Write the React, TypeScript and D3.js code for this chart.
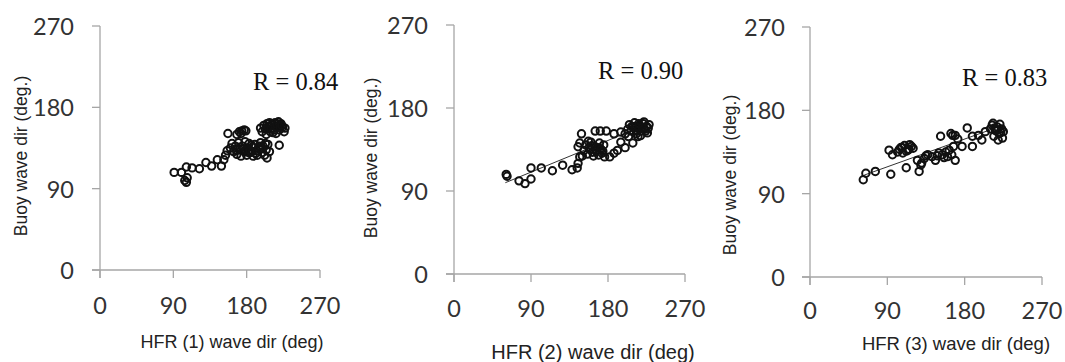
import * as d3 from 'd3';

// HFR vs buoy wave direction (deg)
const hfr1 = [91, 100, 104, 106, 107, 106, 113, 122, 130, 137, 144, 149, 152, 154, 156, 157,
  160, 162, 164, 166, 168, 170, 171, 173, 175, 177, 178, 180, 181, 183, 185, 187, 188, 190, 192, 193, 195, 197, 199, 200, 202, 204, 205, 206, 208, 182, 176, 196,
  172, 179, 186, 191, 198, 203, 167, 184,
  168, 171, 174, 177, 179, 173,
  197, 199, 201, 203, 205, 207, 209, 211, 213, 215, 216, 218, 220, 222, 224, 226, 227, 214, 208, 219, 204,
  206, 210, 217, 221, 223, 212,
  220];
const buoy1 = [108, 108, 99, 97, 102, 114, 113, 112, 119, 115, 122, 115, 122, 127, 132, 151,
  135, 140, 131, 137, 128, 141, 133, 126, 137, 131, 142, 127, 135, 140, 130, 136, 126, 139, 132, 127, 134, 141, 130, 137, 127, 133, 124, 139, 131, 130, 134, 137,
  136, 133, 138, 129, 135, 140, 133, 132,
  150, 153, 154, 155, 154, 151,
  157, 153, 160, 156, 162, 158, 153, 161, 157, 163, 151, 159, 155, 162, 158, 153, 157, 155, 163, 164, 150,
  159, 156, 161, 158, 160, 152,
  138];

const hfr2 = [61, 62, 76, 83, 90, 90, 102, 115, 127, 138, 144, 145, 147, 145, 147, 149,
  152, 154, 156, 158, 160, 162, 163, 165, 167, 169, 171, 173, 175, 176, 170, 157, 150,
  166, 168, 172, 174, 159, 161,
  165, 171, 178, 187, 195,
  182, 187, 191, 195, 200, 209, 215,
  200, 203, 205, 207, 209, 211, 213, 215, 217, 219, 221, 223, 225, 226, 227, 204, 218, 212, 222, 228,
  208, 214, 220, 224, 216];
const buoy2 = [108, 106, 101, 98, 103, 115, 115, 112, 118, 113, 115, 120, 127, 138, 142, 152,
  134, 140, 130, 137, 143, 132, 128, 138, 134, 129, 136, 131, 140, 127, 142, 144, 128,
  133, 137, 135, 133, 135, 139,
  155, 155, 155, 152, 154,
  127, 131, 134, 143, 137, 142, 149,
  152, 157, 162, 155, 159, 164, 152, 158, 161, 155, 163, 157, 160, 153, 158, 149, 150, 160, 165, 162,
  160, 155, 159, 155, 163];

const hfr3 = [62, 65, 76, 94, 92, 96, 102, 107, 110, 112, 115, 118, 108, 104, 120, 112, 125, 127, 129,
  133, 137, 142, 146, 150, 154, 158, 162, 165, 169, 167, 164, 152, 169, 177, 183, 189, 189, 196, 200, 204,
  210, 212, 214, 216, 218, 220, 221, 223, 224, 225, 219, 213, 130, 135, 160, 172, 166, 148, 116,
  217, 222, 215, 114, 106, 156];
const buoy3 = [105, 112, 114, 111, 137, 132, 135, 140, 142, 136, 138, 141, 134, 138, 139, 118, 126, 114, 121,
  128, 132, 130, 126, 134, 132, 135, 137, 132, 126, 141, 155, 152, 153, 141, 161, 141, 152, 153, 148, 157,
  160, 164, 152, 158, 162, 155, 165, 160, 150, 157, 148, 166, 123, 131, 130, 149, 153, 131, 143,
  159, 156, 161, 137, 140, 129];

// fitted lines (panel 1 has none)
const trend2X = [60, 225];
const trend2Y = [99, 162];
const trend3X = [63, 222];
const trend3Y = [110, 163];

const ticks = [0, 90, 180, 270];
const rLabels = ['R = 0.84', 'R = 0.90', 'R = 0.83'];
const xTitles = ['HFR (1) wave dir (deg)', 'HFR (2) wave dir (deg)', 'HFR (3) wave dir (deg)'];
const yTitle = 'Buoy wave dir (deg.)';

const panels = [
  { xs: hfr1, ys: buoy1, tx: null, ty: null, x0: 100, x1: 320, y0: 270, y1: 26, labR: 74, xtY: 305,
    xt: [232, 342, 18], yt: [21, 156], r: [253, 90] },
  { xs: hfr2, ys: buoy2, tx: trend2X, ty: trend2Y, x0: 454, x1: 685, y0: 274, y1: 25, labR: 428, xtY: 308,
    xt: [593, 352, 20], yt: [371, 158], r: [598, 79] },
  { xs: hfr3, ys: buoy3, tx: trend3X, ty: trend3Y, x0: 810, x1: 1042, y0: 277, y1: 27, labR: 785, xtY: 310,
    xt: [956, 343, 18.5], yt: [730, 175], r: [962, 86] },
];

const axisColor = '#a6a6a6';
const tickFont = 'Lato, "Open Sans", sans-serif';
const titleFont = '"Liberation Sans", Arial, sans-serif';

function Panel({ p, i }: { p: typeof panels[number]; i: number }) {
  const x = d3.scaleLinear().domain([0, 270]).range([p.x0, p.x1]);
  const y = d3.scaleLinear().domain([0, 270]).range([p.y0, p.y1]);
  const pts = p.xs.map((v, k) => [v, p.ys[k]]);
  const line = d3.line<number>().x((v) => x(v)).y((_, k) => y(p.ty ? p.ty[k] : 0));

  return (
    <g>
      {/* axes */}
      <line x1={x(0)} x2={x(0)} y1={y(270)} y2={y(0) + 8} stroke={axisColor} strokeWidth={1.3} />
      <line x1={x(0) - 8} x2={x(270)} y1={y(0)} y2={y(0)} stroke={axisColor} strokeWidth={1.3} />
      {ticks.map((t) => (
        <g key={'y' + t}>
          <line x1={x(0) - 8} x2={x(0)} y1={y(t)} y2={y(t)} stroke={axisColor} strokeWidth={1.3} />
          <text x={p.labR} y={y(t)} textAnchor="end" dominantBaseline="central"
            fontFamily={tickFont} fontSize={23.5} fill="#333">{t}</text>
        </g>
      ))}
      {ticks.map((t) => (
        <g key={'x' + t}>
          <line x1={x(t)} x2={x(t)} y1={y(0)} y2={y(0) + 8} stroke={axisColor} strokeWidth={1.3} />
          <text x={x(t)} y={p.xtY} textAnchor="middle" dominantBaseline="central"
            fontFamily={tickFont} fontSize={23.5} fill="#333">{t}</text>
        </g>
      ))}

      {/* trend line */}
      {p.tx && (
        <path d={line(p.tx) || ''} fill="none" stroke="#333" strokeWidth={1} />
      )}

      {/* points */}
      {pts.map(([a, b], k) => (
        <circle key={k} cx={x(a)} cy={y(b)} r={3.7} fill="none" stroke="#111" strokeWidth={2} />
      ))}

      {/* labels */}
      <text x={p.r[0]} y={p.r[1]} fontFamily='"Liberation Serif", "Times New Roman", serif'
        fontSize={24.5} fill="#111">{rLabels[i]}</text>
      <text x={p.xt[0]} y={p.xt[1]} textAnchor="middle" dominantBaseline="central"
        fontFamily={titleFont} fontSize={p.xt[2]} fill="#222">{xTitles[i]}</text>
      <text transform={`translate(${p.yt[0]},${p.yt[1]}) rotate(-90)`} textAnchor="middle"
        dominantBaseline="central" fontFamily={titleFont} fontSize={17.5} fill="#222">{yTitle}</text>
    </g>
  );
}

export default function App() {
  return (
    <svg width={1065} height={362} style={{ position: 'absolute', left: 0, top: 0, background: '#fff' }}>
      <rect width={1065} height={362} fill="#fff" />
      {panels.map((p, i) => (
        <Panel key={i} p={p} i={i} />
      ))}
    </svg>
  );
}
